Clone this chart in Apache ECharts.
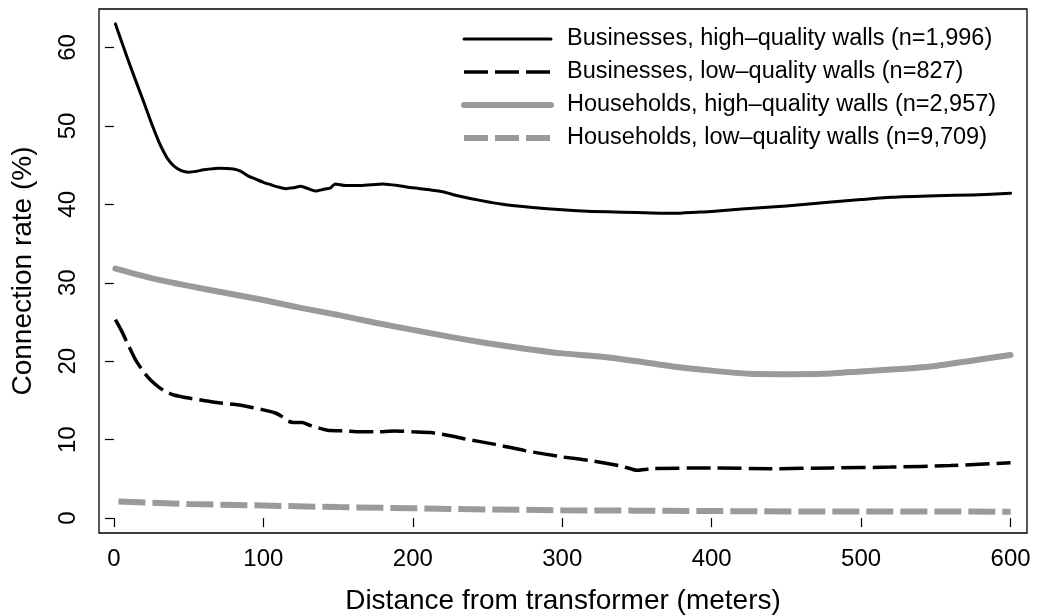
<!DOCTYPE html>
<html>
<head>
<meta charset="utf-8">
<script src="https://cdn.jsdelivr.net/npm/echarts@6/dist/echarts.min.js"></script>
<style>
html,body{margin:0;padding:0;background:#fff;}
#chart{width:1038px;height:616px;}
</style>
</head>
<body>
<div id="chart"></div>
<script>
// ---- Data ----
const seriesNames = [
  'Businesses, high\u2013quality walls (n=1,996)',
  'Businesses, low\u2013quality walls (n=827)',
  'Households, high\u2013quality walls (n=2,957)',
  'Households, low\u2013quality walls (n=9,709)'
];

const bizHighX = [1,10,20,25,30,33,36,40,45,50,55,60,70,80,85,90,95,100,105,110,115,120,125,130,135,140,145,148,155,165,180,190,200,210,220,230,245,260,280,300,320,340,360,375,390,400,420,450,480,500,520,550,575,600];
const bizHighY = [63.0,58.1,53.0,50.4,48.0,46.8,45.8,44.9,44.3,44.1,44.2,44.4,44.6,44.5,44.2,43.6,43.2,42.8,42.5,42.2,42.0,42.1,42.3,42.0,41.7,41.9,42.1,42.6,42.4,42.4,42.6,42.4,42.1,41.9,41.6,41.1,40.5,40.0,39.6,39.3,39.1,39.0,38.9,38.85,39.0,39.1,39.4,39.8,40.3,40.6,40.9,41.1,41.2,41.4];

const bizLowX = [1,5,10,15,20,25,30,35,40,50,60,70,80,90,100,108,112,116,120,126,130,135,143,155,165,175,188,200,212,225,235,255,275,300,320,340,350,360,400,440,480,520,560,600];
const bizLowY = [25.3,23.9,21.9,20.0,18.6,17.5,16.7,16.1,15.7,15.3,15.0,14.7,14.5,14.2,13.8,13.4,13.0,12.4,12.2,12.2,11.9,11.6,11.2,11.1,11.0,11.0,11.1,11.0,10.9,10.5,10.1,9.4,8.6,7.8,7.3,6.6,6.1,6.3,6.4,6.3,6.4,6.5,6.7,7.05];

const hhHighX = [1,25,50,75,100,125,150,175,200,225,250,275,300,325,350,375,400,425,450,475,500,525,550,575,600];
const hhHighY = [31.8,30.6,29.6,28.7,27.8,26.8,25.9,24.9,24.0,23.1,22.3,21.6,21.0,20.6,20.0,19.3,18.8,18.4,18.35,18.4,18.7,19.0,19.4,20.1,20.8];

const hhLowX = [3,50,100,150,200,250,300,350,400,450,500,550,600];
const hhLowY = [2.1,1.8,1.6,1.4,1.25,1.1,1.0,0.95,0.9,0.85,0.85,0.85,0.8];

const xTicks = [0,100,200,300,400,500,600];
const yTicks = [0,10,20,30,40,50,60];

const xTitle = 'Distance from transformer (meters)';
const yTitle = 'Connection rate (%)';

// ---- Chart ----
const pair = (xs, ys) => xs.map((x, i) => [x, ys[i]]);
const FONT = "'Liberation Sans', Arial, Helvetica, sans-serif";
const GRAY = '#9a9a9a';
const hidden = {opacity: 0, color: 'rgba(0,0,0,0)', borderWidth: 0};

const chart = echarts.init(document.getElementById('chart'), null, {renderer: 'canvas'});
chart.setOption({
  animation: false,
  backgroundColor: '#fff',
  textStyle: {fontFamily: FONT, color: '#000'},
  grid: {left: 99, right: 11, top: 9, bottom: 83, show: true, borderColor: '#000', borderWidth: 1.3,
         containLabel: false, outerBoundsMode: 'none'},
  legend: {
    orient: 'vertical', left: 461, top: 26, padding: 0,
    itemWidth: 87, itemHeight: 14, itemGap: 7,
    itemStyle: hidden,
    textStyle: {fontFamily: FONT, fontSize: 23.5, color: '#000', lineHeight: 26, padding: [0,0,0,11]},
    data: [
      {name: seriesNames[0], itemStyle: hidden, lineStyle: {width: 3, color: '#000', type: 'solid'}},
      {name: seriesNames[1], itemStyle: hidden, lineStyle: {width: 3.5, color: '#000', type: [24,7], cap: 'butt'}},
      {name: seriesNames[2], itemStyle: hidden, lineStyle: {width: 6, color: GRAY, type: 'solid'}},
      {name: seriesNames[3], itemStyle: hidden, lineStyle: {width: 6, color: GRAY, type: [24,7], cap: 'butt'}}
    ]
  },
  xAxis: {
    type: 'value', min: -10, max: 611,
    axisLine: {show: false},
    splitLine: {show: false},
    axisTick: {show: true, length: 9, customValues: xTicks, lineStyle: {color: '#000', width: 1.2}},
    axisLabel: {customValues: xTicks, fontFamily: FONT, fontSize: 24, color: '#000', margin: 14},
    name: xTitle, nameLocation: 'middle', nameGap: 54,
    nameTextStyle: {fontFamily: FONT, fontSize: 28, color: '#000'}
  },
  yAxis: {
    type: 'value', min: -1.9, max: 64.9,
    axisLine: {show: false},
    splitLine: {show: false},
    axisTick: {show: true, length: 9, customValues: yTicks, lineStyle: {color: '#000', width: 1.2}},
    axisLabel: {customValues: yTicks, rotate: 90, fontFamily: FONT, fontSize: 24, color: '#000', margin: 19},
    name: yTitle, nameLocation: 'middle', nameGap: 62, nameRotate: 90,
    nameTextStyle: {fontFamily: FONT, fontSize: 28, color: '#000'}
  },
  series: [
    {name: seriesNames[2], type: 'line', symbol: 'none', smooth: 0.2, data: pair(hhHighX, hhHighY),
     lineStyle: {color: GRAY, width: 6, type: 'solid', cap: 'round'}, itemStyle: {color: GRAY}},
    {name: seriesNames[3], type: 'line', symbol: 'none', data: pair(hhLowX, hhLowY),
     lineStyle: {color: GRAY, width: 6, type: [27,7], cap: 'butt'}, itemStyle: {color: GRAY}},
    {name: seriesNames[0], type: 'line', symbol: 'none', smooth: 0.2, data: pair(bizHighX, bizHighY),
     lineStyle: {color: '#000', width: 3, type: 'solid', cap: 'round', join: 'round'}, itemStyle: {color: '#000'}},
    {name: seriesNames[1], type: 'line', symbol: 'none', smooth: 0.2, data: pair(bizLowX, bizLowY),
     lineStyle: {color: '#000', width: 3.5, type: [24,7], cap: 'butt'}, itemStyle: {color: '#000'}}
  ]
});
</script>
</body>
</html>
